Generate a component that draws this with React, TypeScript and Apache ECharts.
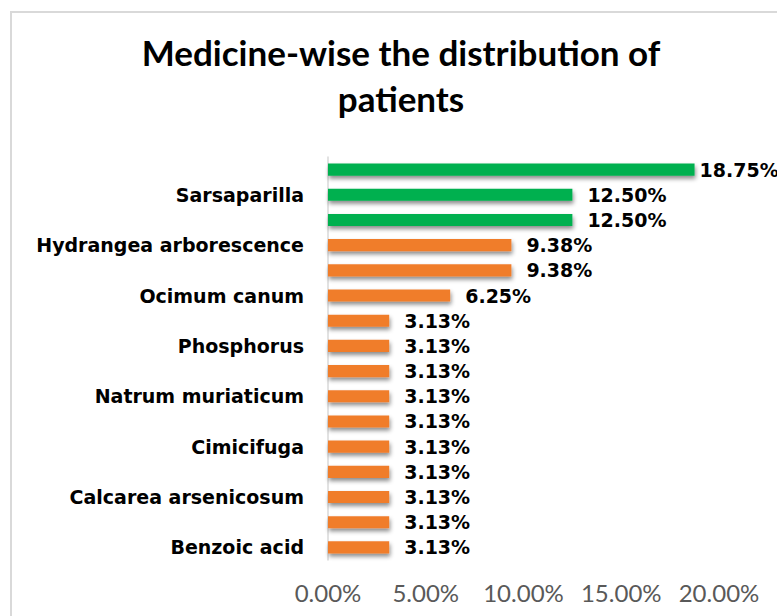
import React, { useEffect, useRef } from "react";
import * as echarts from "echarts";

// Categories listed from top to bottom; unlabeled bars in the reference have empty names
const categories: string[] = [
  "",
  "Sarsaparilla",
  "",
  "Hydrangea arborescence",
  "",
  "Ocimum canum",
  "",
  "Phosphorus",
  "",
  "Natrum muriaticum",
  "",
  "Cimicifuga",
  "",
  "Calcarea arsenicosum",
  "",
  "Benzoic acid",
];

// Percentage of patients
const percentages: number[] = [
  18.75, 12.5, 12.5, 9.38, 9.38, 6.25, 3.13, 3.13, 3.13, 3.13, 3.13, 3.13, 3.13, 3.13, 3.13, 3.13,
];

const xTicks: number[] = [0, 5, 10, 15, 20];

const titleLines: string[] = ["Medicine-wise the distribution of", "patients"];

const GREEN = "#00B050";
const ORANGE = "#F07D2C";
const TITLE_FONT = "Lato, 'Open Sans', sans-serif";
const LABEL_FONT = "'DejaVu Sans', 'Open Sans', sans-serif";

export default function App() {
  const ref = useRef<HTMLDivElement>(null);

  useEffect(() => {
    if (!ref.current) return;
    const chart = echarts.init(ref.current, undefined, { renderer: "svg" });
    const xMax = xTicks[xTicks.length - 1];
    // Labels of bars near the plot's right edge sit closer to the bar (as in the reference)
    const barData = percentages.map((v) => ({
      value: v,
      label: { distance: v / xMax > 0.9 ? 5 : 15 },
    }));
    chart.setOption({
      animation: false,
      backgroundColor: "#ffffff",
      title: {
        text: titleLines.join("\n"),
        left: 396,
        textAlign: "center",
        top: 24,
        textStyle: {
          fontFamily: TITLE_FONT,
          fontWeight: "bold",
          fontSize: 35,
          lineHeight: 46,
          color: "#000000",
        },
      },
      graphic: [
        {
          type: "rect",
          shape: { x: 11, y: 12, width: 820, height: 700 },
          style: { fill: "none", stroke: "#D9D9D9", lineWidth: 2 },
          silent: true,
        },
      ],
      grid: {
        left: 328,
        right: 58,
        top: 157,
        bottom: 56,
        containLabel: false,
      },
      xAxis: {
        type: "value",
        min: xTicks[0],
        max: xMax,
        interval: xTicks[1] - xTicks[0],
        splitLine: { show: false },
        axisLine: { show: false },
        axisTick: { show: false },
        axisLabel: {
          formatter: (v: number) => `${v.toFixed(2)}%`,
          color: "#595959",
          fontFamily: TITLE_FONT,
          fontSize: 24,
          margin: 20,
        },
      },
      yAxis: {
        type: "category",
        data: categories,
        inverse: true,
        axisLine: { show: true, lineStyle: { color: "#D9D9D9", width: 1.5 } },
        axisTick: { show: false },
        axisLabel: {
          interval: 0,
          color: "#000000",
          fontFamily: LABEL_FONT,
          fontWeight: "bold",
          fontSize: 19,
          margin: 24,
        },
      },
      series: [
        {
          type: "bar",
          data: barData,
          barCategoryGap: "52%",
          itemStyle: {
            color: (p: any) => (p.value >= 12 ? GREEN : ORANGE),
            shadowColor: "rgba(0,0,0,0.45)",
            shadowBlur: 4,
            shadowOffsetY: 3,
            shadowOffsetX: 1,
          },
          label: {
            show: true,
            position: "right",
            distance: 15,
            formatter: (p: any) => `${Number(p.value).toFixed(2)}%`,
            color: "#000000",
            fontFamily: LABEL_FONT,
            fontWeight: "bold",
            fontSize: 19,
          },
        },
      ],
    });
    return () => chart.dispose();
  }, []);

  return (
    <div
      ref={ref}
      style={{ position: "absolute", left: 0, top: 0, width: 777, height: 616 }}
    />
  );
}
